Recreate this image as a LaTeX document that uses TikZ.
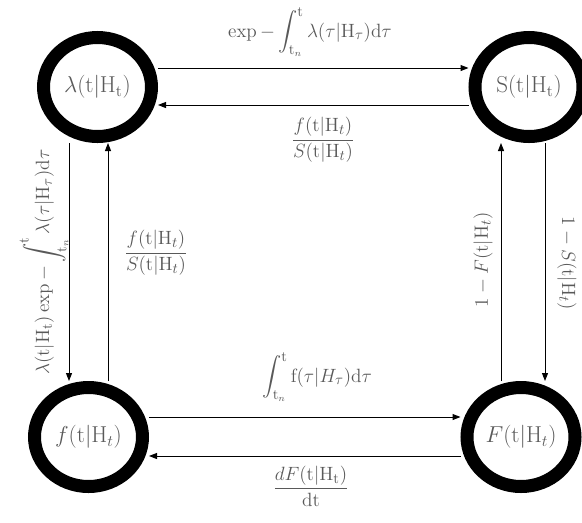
\documentclass[tikz,border=0pt]{standalone}
\usepackage{amsmath}
\usetikzlibrary{shapes.geometric,arrows.meta,calc}
\definecolor{txt}{RGB}{89,89,89}
\tikzset{
 state/.style={ellipse, draw=black, line width=9.75pt, minimum width=81pt, minimum height=74.25pt, inner sep=0pt, text=txt, font=\fontsize{17}{20}\selectfont},
 lbl/.style={text=txt, font=\fontsize{15}{18}\selectfont, inner sep=0pt},
 arr/.style={-{Triangle[length=6pt,width=4.5pt]}, line width=0.75pt, draw=black},
}
\begin{document}
\begin{tikzpicture}[x=0.75pt,y=-0.75pt]
\useasboundingbox (0,0) rectangle (582,522);
\node[state] (lam) at (97.5,87) {$\lambda(\mathrm{t}|\mathrm{H_t})$};
\node[state] (S) at (529,87) {$\mathrm{S}(\mathrm{t}|\mathrm{H_t})$};
\node[state] (f) at (88.5,437) {$f(\mathrm{t}|\mathrm{H}_t)$};
\node[state] (F) at (521,437) {$F(\mathrm{t}|\mathrm{H}_t)$};

\draw[arr] ($(lam.east)+(0,-19)$) -- ($(S.west)+(0,-19)$);
\draw[arr] ($(S.west)+(0,18)$) -- ($(lam.east)+(0,18)$);
\draw[arr] ($(f.east)+(0,-20)$) -- ($(F.west)+(0,-20)$);
\draw[arr] ($(F.west)+(0,19)$) -- ($(f.east)+(0,19)$);
\draw[arr] ($(lam.south)+(-28.5,0)$) -- ($(f.north)+(-19.5,0)$);
\draw[arr] ($(f.north)+(19.5,0)$) -- ($(lam.south)+(10.5,0)$);
\draw[arr] ($(F.north)+(-20,0)$) -- ($(S.south)+(-28,0)$);
\draw[arr] ($(S.south)+(16,0)$) -- ($(F.north)+(24,0)$);

\node[lbl] (l1) at (310,32) {$\exp-\displaystyle\int_{\mathrm{t}_n}^{\mathrm{t}}\lambda(\tau|\mathrm{H}_\tau)\mathrm{d}\tau$};
\node[lbl] (l2) at (323,140) {$\dfrac{f(\mathrm{t}|\mathrm{H}_t)}{S(\mathrm{t}|\mathrm{H}_t)}$};
\node[lbl] (l3) at (317,377) {$\displaystyle\int_{\mathrm{t}_n}^{\mathrm{t}}\mathrm{f}(\tau|H_\tau)\mathrm{d}\tau$};
\node[lbl] (l4) at (311,486) {$\dfrac{dF(\mathrm{t}|\mathrm{H_t})}{\mathrm{dt}}$};
\node[lbl, rotate=90] (l5) at (44,262) {$\lambda(\mathrm{t}|\mathrm{H_t})\exp-\displaystyle\int_{\mathrm{t}_n}^{\mathrm{t}}\lambda(\tau|\mathrm{H}_\tau)\mathrm{d}\tau$};
\node[lbl] (l6) at (156,253) {$\dfrac{f(\mathrm{t}|\mathrm{H}_t)}{S(\mathrm{t}|\mathrm{H}_t)}$};
\node[lbl, rotate=90] (l7) at (483,260) {$1-F(\mathrm{t}|\mathrm{H}_t)$};
\node[lbl, rotate=-90] (l8) at (567,263) {$1-S(\mathrm{t}|\mathrm{H}_t)$};
\end{tikzpicture}
\end{document}
